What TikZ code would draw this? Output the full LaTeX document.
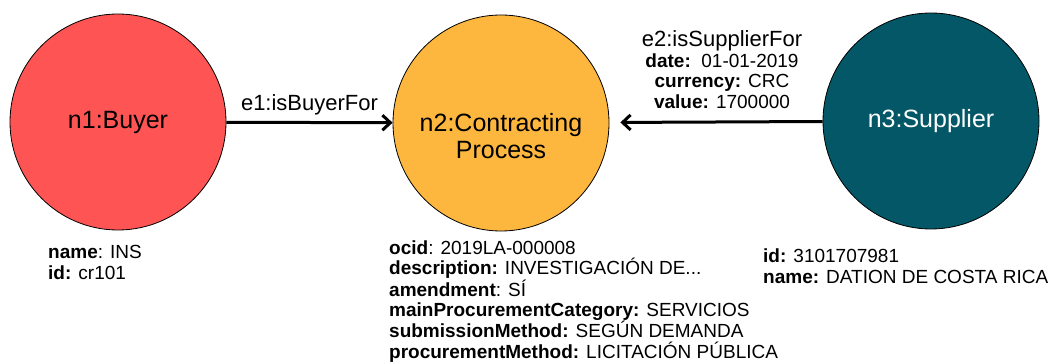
\documentclass[tikz,border=0pt]{standalone}
\usepackage{fontspec}
\setmainfont{Liberation Sans}
\usetikzlibrary{arrows.meta}
\definecolor{buyerred}{RGB}{255,84,84}
\definecolor{processorange}{RGB}{253,183,63}
\definecolor{supplierteal}{RGB}{3,87,103}
\begin{document}
\begin{tikzpicture}[x=1pt, y=-1pt,
	main/.style = {draw, circle, line width=0.8pt, minimum size=216pt, inner sep=0pt, align=center, font=\fontsize{25}{27}\selectfont},
	props/.style = {anchor=base west, align=left, inner sep=0pt, font=\fontsize{19}{20.5}\selectfont},
	rel/.style = {line width=3pt, -{Straight Barb[length=8pt,width=15pt]}},
	lbl/.style = {inner sep=0pt, font=\fontsize{22}{22}\selectfont}]

		\useasboundingbox (0,0) rectangle (1051,363);

		\node[main, fill=buyerred] (n1) at (118,122) {n1:Buyer};
		\node[main, fill=processorange, label={[align=center, yshift=-13pt, font=\fontsize{25}{27}\selectfont]center:{n2:Contracting\\Process}}] (n2) at (501,123) {};
		\node[main, fill=supplierteal, text=white] (n3) at (931,121) {n3:Supplier};

		\draw[rel] (n1) to node[lbl, above=6pt] (e1) {e1:isBuyerFor} (n2);
		\draw[rel, shorten >=11pt] (n3) to node[lbl, above=12pt, xshift=6pt, align=center, font=\fontsize{19}{20.5}\selectfont] (e2) {{\fontsize{22}{20.5}\selectfont e2:isSupplierFor}\\ \textbf{date:}~~01-01-2019\\ \textbf{currency:} CRC\\ \textbf{value:} 1700000} (n2);

		% property lists, anchored at the baseline of their last line
		\node[props] (p1) at (48,279) {\textbf{name}: INS\\ \textbf{id:} cr101};
		\node[props, font=\fontsize{19}{20.2}\selectfont] (p2) at (389,358) {\textbf{ocid}: 2019LA-000008\\ \textbf{description:} INVESTIGACIÓN DE...\\ \textbf{amendment}: SÍ\\ \textbf{mainProcurementCategory:} SERVICIOS\\ \textbf{submissionMethod:} SEGÚN DEMANDA\\ \textbf{procurementMethod:} LICITACIÓN PÚBLICA};
		\node[props] (p3) at (763,283) {\textbf{id:} 3101707981\\ \textbf{name:} DATION DE COSTA RICA};
	\end{tikzpicture}
\end{document}
